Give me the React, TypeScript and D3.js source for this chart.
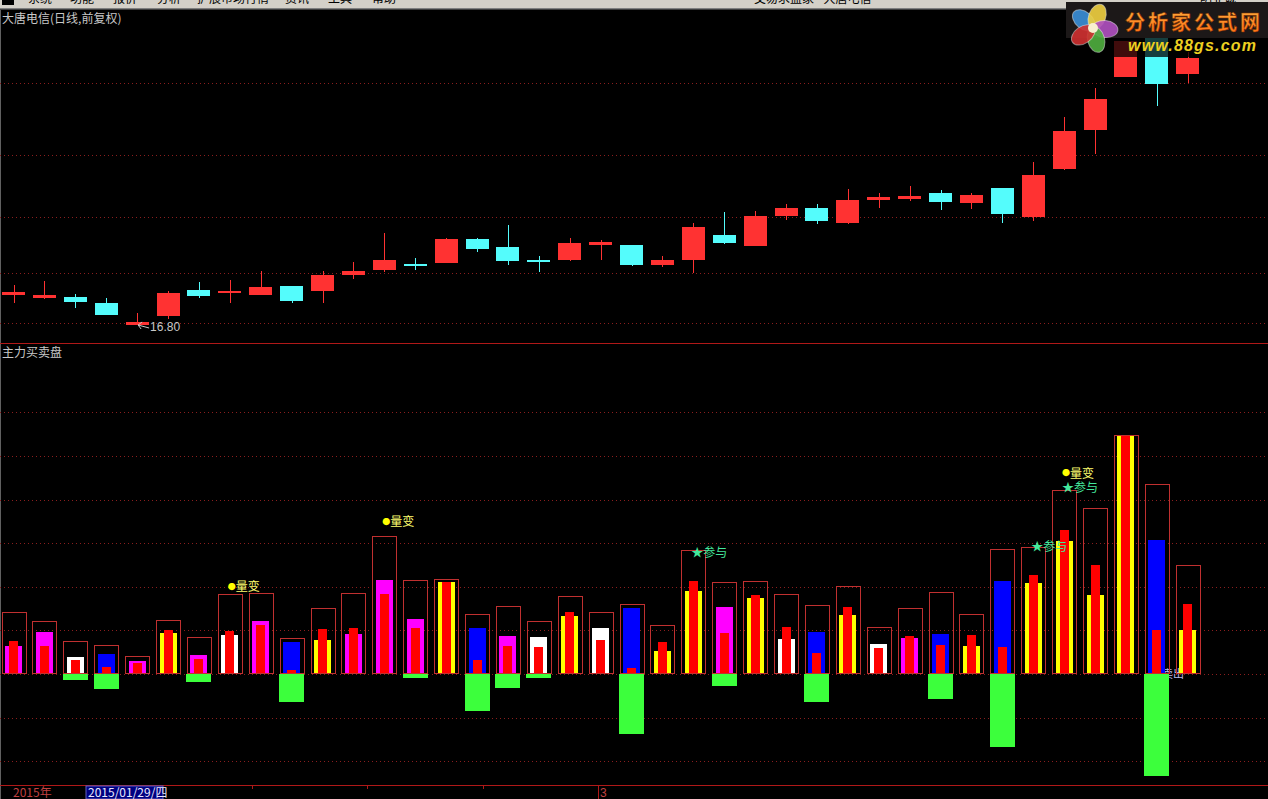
import React from 'react';
import * as d3 from 'd3';

const W = 1268;
const H = 799;

// ---- upper panel: daily candles (price) ----
const candleOpen = [18.30,18.15,18.22,17.92,16.80,17.25,18.55,18.44,18.30,18.75,18.50,19.32,19.55,19.83,19.92,21.09,20.70,20.04,20.07,20.80,20.80,19.80,20.05,21.29,20.75,22.25,22.65,21.90,23.05,23.10,23.40,22.90,23.65,22.22,24.60,26.57,29.22,31.15,29.35];
const candleClose = [18.45,18.28,17.97,17.30,16.97,18.39,18.27,18.52,18.69,18.02,19.30,19.52,20.05,19.78,21.10,20.60,20.02,19.97,20.90,20.95,19.80,20.05,21.70,20.92,22.25,22.65,22.00,23.05,23.20,23.25,22.95,23.30,22.34,24.30,26.50,28.09,31.00,28.85,30.13];
const candleHigh = [18.80,19.00,18.35,18.17,17.42,18.50,18.97,19.05,19.50,18.75,19.50,19.97,21.42,20.14,21.15,21.17,21.80,20.25,21.17,21.05,20.80,20.25,21.92,22.45,22.50,22.85,22.85,23.60,23.40,23.75,23.55,23.40,23.65,24.94,27.19,28.64,31.00,31.15,30.45];
const candleLow = [17.90,18.10,17.65,17.30,16.80,17.10,18.17,17.92,18.30,17.92,17.90,19.12,19.47,19.55,19.92,20.47,19.80,19.47,20.00,20.05,19.75,19.69,19.42,20.87,20.75,22.05,21.85,21.85,22.65,23.00,22.55,22.60,21.90,22.02,24.55,25.35,29.20,27.77,28.89];
const priceGrid = [28.90, 25.30, 22.20, 19.40, 16.90];
const lowLabel = '16.80';
const lowIndex = 4;

// ---- lower panel: 主力买卖盘 ----
const boxVals = [14.2,12.2,7.6,6.6,4.1,12.3,8.4,18.3,18.5,8.2,15.1,18.6,31.7,21.5,21.9,13.8,15.6,12.2,17.9,14.2,16.1,11.2,28.4,21.0,21.3,18.3,15.8,20.2,10.8,15.1,18.7,13.8,28.7,29.1,42.2,38.0,54.8,43.5,25.0];
const fillVals = [6.4,9.7,3.9,4.7,3.0,9.5,4.4,8.9,12.2,7.3,7.8,9.2,21.6,12.6,21.1,10.6,8.7,8.5,13.3,10.6,15.1,5.3,19.0,15.4,17.4,8.1,9.6,13.5,6.9,8.2,9.1,6.4,21.4,20.9,30.6,18.1,54.8,30.7,10.1];
const fillKinds = ['M','M','W','B','M','Y','M','W','M','B','Y','M','M','M','Y','B','M','W','Y','W','B','Y','Y','M','Y','W','B','Y','W','M','B','Y','B','Y','Y','Y','Y','B','Y'];
const redVals = [7.6,6.4,3.3,1.6,2.5,10.1,3.4,9.9,11.2,0.9,10.3,10.6,18.3,10.6,21.1,3.2,6.4,6.2,14.2,7.8,1.4,7.4,21.4,9.3,18.1,10.8,4.8,15.4,6.0,8.7,6.7,8.9,6.1,22.7,33.0,25.0,54.8,10.1,16.1];
const greenVals = [0,0,-1.4,-3.4,0,0,-1.8,0,0,-6.4,0,0,0,-0.9,0,-8.5,-3.2,-0.9,0,0,-13.8,0,0,-2.8,0,0,-6.4,0,0,0,-5.7,0,-16.7,0,0,0,0,-23.4,0];
const valueGrid = [-20,-10,0,10,20,30,40,50,60];
const markLiangbianIdx = [7, 12, 34];
const markLiangbianVal = [20.2, 35.1, 46.3];
const markCanyuIdx = [22, 33, 34];
const markCanyuVal = [28.0, 29.4, 42.9];

const menuItems = ['系统','功能','报价','分析','扩展市场行情','资讯','工具','帮助'];
const menuX = [28, 70, 113, 157, 197, 285, 328, 372];

const kindColor: Record<string, string> = { M: '#ff00ff', W: '#ffffff', B: '#0000ff', Y: '#ffff00' };

const CJK = '"Noto Sans CJK SC", "Noto Sans", sans-serif';
const LAT = '"Liberation Sans", Arial, sans-serif';

export default function App() {
  React.useEffect(() => {
    document.body.style.margin = '0';
    document.body.style.background = '#000';
    document.body.style.overflow = 'hidden';
  }, []);

  const x = d3.scaleLinear().domain([0, 38]).range([13.5, 1187.7]);
  const yP = d3.scaleLinear().domain([16.8, 30.55]).range([325, 50]);
  const yV = d3.scaleLinear().domain([0, 10]).range([674, 630.4]);

  const gridColor = '#8a1e1e';
  const up = '#ff3232';
  const down = '#54fcfc';

  return (
    <svg width={W} height={H} style={{ position: 'fixed', left: 0, top: 0, display: 'block', background: '#000' }}>
      <defs>
        <clipPath id="menuClip"><rect x={0} y={0} width={W} height={8} /></clipPath>
        <linearGradient id="logoGrad" x1="0" y1="0" x2="0" y2="1">
          <stop offset="0" stopColor="#ffb040" />
          <stop offset="1" stopColor="#ff6a10" />
        </linearGradient>
      </defs>
      <rect x={0} y={0} width={W} height={H} fill="#000" />

      {/* menu bar */}
      <rect x={0} y={0} width={W} height={8} fill="#d4d0c8" />
      <line x1={0} x2={W} y1={8.5} y2={8.5} stroke="#808080" />
      <line x1={0} x2={W} y1={9.5} y2={9.5} stroke="#404040" />
      <g clipPath="url(#menuClip)" fontFamily={CJK} fontSize={12} fill="#000">
        <rect x={2} y={0} width={12} height={5} fill="#000" />
        {menuItems.map((m, i) => (
          <text key={m} x={menuX[i]} y={3}>{m}</text>
        ))}
        <text x={754} y={3}>交易求盘家 - 大唐电信</text>
        <text x={1200} y={3}>明亚诚</text>
      </g>

      {/* left border */}
      <line x1={0.5} x2={0.5} y1={10} y2={H} stroke="#606060" />

      {/* upper grid */}
      {priceGrid.map((p) => (
        <line key={p} x1={0} x2={W} y1={Math.round(yP(p)) + 0.5} y2={Math.round(yP(p)) + 0.5}
          stroke={gridColor} strokeDasharray="1 3" />
      ))}

      <text x={2} y={23} fontFamily={CJK} fontSize={12} fill="#c8c8c8">大唐电信(日线,前复权)</text>

      {/* candles */}
      {candleOpen.map((o, i) => {
        const c = candleClose[i];
        const col = c >= o ? up : down;
        const cx = x(i);
        const top = Math.round(yP(Math.max(o, c)));
        const bot = Math.round(yP(Math.min(o, c)));
        const hgt = Math.max(2, bot - top);
        return (
          <g key={i}>
            <line x1={Math.round(cx) + 0.5} x2={Math.round(cx) + 0.5}
              y1={Math.round(yP(candleHigh[i]))} y2={Math.round(yP(candleLow[i]))} stroke={col} />
            <rect x={Math.round(cx - 11.5)} y={top} width={23} height={hgt} fill={col} />
          </g>
        );
      })}

      {/* low label */}
      <g stroke="#c8c8c8" fill="none">
        <line x1={x(lowIndex) + 12} y1={yP(16.8) + 3} x2={x(lowIndex) + 1} y2={yP(16.8)} />
        <line x1={x(lowIndex) + 1} y1={yP(16.8)} x2={x(lowIndex) + 5} y2={yP(16.8) - 3} />
        <line x1={x(lowIndex) + 1} y1={yP(16.8)} x2={x(lowIndex) + 4} y2={yP(16.8) + 4} />
      </g>
      <text x={x(lowIndex) + 13} y={yP(16.8) + 6} fontFamily={LAT} fontSize={12} fill="#c8c8c8">{lowLabel}</text>

      {/* logo watermark */}
      <rect x={1066} y={2} width={202} height={36} fill="#1c1818" />
      <rect x={1100} y={38} width={168} height={19} fill="#000" opacity={0.75} />
      <g transform="translate(1093,28)">
        {[
          { a: -50, c: '#3a8fd8' },
          { a: 20, c: '#f0d040' },
          { a: 95, c: '#b050c0' },
          { a: 165, c: '#50b040' },
          { a: 235, c: '#d03030' },
        ].map((p) => (
          <ellipse key={p.a} cx={0} cy={-12} rx={8.5} ry={13} fill={p.c} opacity={0.9}
            transform={`rotate(${p.a})`} stroke="#ffffff" strokeOpacity={0.5} />
        ))}
        <circle cx={0} cy={0} r={5} fill="#f8f0d0" />
      </g>
      <text x={1125} y={30} fontFamily={CJK} fontWeight="bold" fontSize={20} fill="url(#logoGrad)"
        stroke="#803000" strokeWidth={0.5} textLength={135}>分析家公式网</text>
      <text x={1128} y={51} fontFamily={LAT} fontWeight="bold" fontStyle="italic" fontSize={16}
        fill="#ecd020" textLength={128}>www.88gs.com</text>

      {/* panel separator */}
      <line x1={0} x2={W} y1={343.5} y2={343.5} stroke="#b01818" />
      <text x={2} y={357} fontFamily={CJK} fontSize={12} fill="#c8c8c8">主力买卖盘</text>

      {/* lower grid */}
      {valueGrid.map((v) => (
        <line key={v} x1={0} x2={W} y1={Math.round(yV(v)) + 0.5} y2={Math.round(yV(v)) + 0.5}
          stroke={gridColor} strokeDasharray="1 3" />
      ))}

      <text x={1162} y={678} fontFamily={CJK} fontSize={11} fill="#b8b8e8">卖出</text>

      {/* bars */}
      {boxVals.map((b, i) => {
        const cx = x(i);
        const y0 = yV(0);
        const boxTop = Math.round(yV(b));
        const fTop = Math.round(yV(fillVals[i]));
        const rTop = Math.round(yV(redVals[i]));
        const g = greenVals[i];
        return (
          <g key={i}>
            <rect x={Math.round(cx - 8.5)} y={fTop} width={17} height={Math.round(y0) - fTop} fill={kindColor[fillKinds[i]]} />
            <rect x={Math.round(cx - 4.5)} y={rTop} width={9} height={Math.round(y0) - rTop} fill="#ff0000" />
            <rect x={Math.round(cx - 12) + 0.5} y={boxTop + 0.5} width={24} height={Math.round(y0) - boxTop - 1}
              fill="none" stroke="#c03030" />
            {g < 0 && (
              <rect x={Math.round(cx - 12.5)} y={Math.round(y0)} width={25} height={Math.round(yV(g)) - Math.round(y0)} fill="#3cff3c" />
            )}
          </g>
        );
      })}

      {/* annotations */}
      {markLiangbianIdx.map((idx, k) => (
        <text key={'lb' + idx} x={x(idx) - 2} y={yV(markLiangbianVal[k])} dominantBaseline="central"
          fontFamily={CJK} fontSize={12} fill="#ffff70">
          <tspan fontSize={8} fill="#ffff00">●</tspan>量变
        </text>
      ))}
      {markCanyuIdx.map((idx, k) => (
        <text key={'cy' + idx + k} x={x(idx) - 2} y={yV(markCanyuVal[k])} dominantBaseline="central"
          fontFamily={CJK} fontSize={12} fill="#44e89c">★参与</text>
      ))}

      {/* bottom axis */}
      <line x1={0} x2={W} y1={785.5} y2={785.5} stroke="#b01818" />
      {[252, 367, 483].map((tx) => (
        <line key={tx} x1={tx + 0.5} x2={tx + 0.5} y1={786} y2={789} stroke="#b01818" />
      ))}
      <text x={13} y={797} fontFamily={CJK} fontSize={12} fill="#c04040">2015年</text>
      <rect x={86} y={786} width={77} height={13} fill="#000080" stroke="#6060c0" />
      <text x={88} y={797} fontFamily={CJK} fontSize={12} fill="#e8e8ff">2015/01/29/四</text>
      <line x1={598.5} x2={598.5} y1={786} y2={H} stroke="#b01818" />
      <text x={600} y={797} fontFamily={LAT} fontSize={12} fill="#c04040">3</text>
    </svg>
  );
}
